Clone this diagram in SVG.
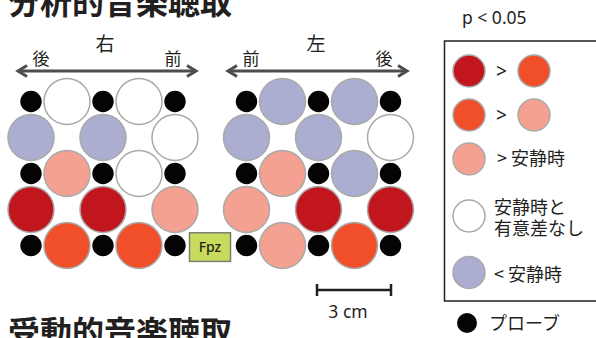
<svg xmlns="http://www.w3.org/2000/svg" width="596" height="338" viewBox="0 0 596 338">
<style>
.c{stroke:#a9a9a9;stroke-width:1.5}
.red{fill:#c1161d}
.org{fill:#f04f29}
.pnk{fill:#f5a192}
.wht{fill:#ffffff}
.lav{fill:#abaed1}
.prb{fill:#060304}
.jp{font-family:"Noto Sans CJK JP","Noto Sans",sans-serif;fill:#231f20}
.lat{font-family:"Noto Sans","Liberation Sans",sans-serif;fill:#231f20}
.arr{stroke:#4d4d4f;stroke-width:3;fill:none}
</style>
<rect width="596" height="338" fill="#ffffff"/>
<text class="jp" x="8" y="14" font-size="32" font-weight="bold">分析的音楽聴取</text>
<text class="jp" x="8" y="344" font-size="32" font-weight="bold">受動的音楽聴取</text>

<g id="connectors">
  <line class="arr" x1="19" y1="71" x2="195" y2="71"/>
  <polyline class="arr" points="27,65.5 18,71 27,76.5"/>
  <polyline class="arr" points="187,65.5 196,71 187,76.5"/>
  <line class="arr" x1="229" y1="71" x2="406" y2="71"/>
  <polyline class="arr" points="237,65.5 228,71 237,76.5"/>
  <polyline class="arr" points="398,65.5 407,71 398,76.5"/>
</g>

<g id="labels-right-head">
  <text class="jp" x="105" y="51" font-size="19" text-anchor="middle">右</text>
  <text class="jp" x="41" y="65" font-size="17" text-anchor="middle">後</text>
  <text class="jp" x="173" y="65" font-size="17" text-anchor="middle">前</text>
</g>
<g id="labels-left-head">
  <text class="jp" x="316" y="51" font-size="19" text-anchor="middle">左</text>
  <text class="jp" x="251" y="65" font-size="17" text-anchor="middle">前</text>
  <text class="jp" x="384" y="65" font-size="17" text-anchor="middle">後</text>
</g>

<g id="right-hemisphere">
  <circle class="c wht" cx="67" cy="101.5" r="23"/>
  <circle class="c wht" cx="139" cy="101.5" r="23"/>
  <circle class="c lav" cx="31" cy="137.5" r="23"/>
  <circle class="c lav" cx="103" cy="137.5" r="23"/>
  <circle class="c wht" cx="175" cy="137.5" r="23"/>
  <circle class="c pnk" cx="67" cy="173.5" r="23"/>
  <circle class="c wht" cx="139" cy="173.5" r="23"/>
  <circle class="c red" cx="31" cy="209.5" r="23"/>
  <circle class="c red" cx="103" cy="209.5" r="23"/>
  <circle class="c pnk" cx="175" cy="209.5" r="23"/>
  <circle class="c org" cx="67" cy="245.5" r="23"/>
  <circle class="c org" cx="139" cy="245.5" r="23"/>
  <g class="prb">
    <circle cx="31" cy="101.5" r="10.7"/>
    <circle cx="103" cy="101.5" r="10.7"/>
    <circle cx="175" cy="101.5" r="10.7"/>
    <circle cx="31" cy="173.5" r="10.7"/>
    <circle cx="103" cy="173.5" r="10.7"/>
    <circle cx="175" cy="173.5" r="10.7"/>
    <circle cx="31" cy="245.5" r="10.7"/>
    <circle cx="103" cy="245.5" r="10.7"/>
    <circle cx="175" cy="245.5" r="10.7"/>
  </g>
</g>

<g id="left-hemisphere">
  <circle class="c lav" cx="282.5" cy="101.5" r="23"/>
  <circle class="c lav" cx="354.5" cy="101.5" r="23"/>
  <circle class="c lav" cx="246.5" cy="137.5" r="23"/>
  <circle class="c lav" cx="318.5" cy="137.5" r="23"/>
  <circle class="c wht" cx="390.5" cy="137.5" r="23"/>
  <circle class="c pnk" cx="282.5" cy="173.5" r="23"/>
  <circle class="c lav" cx="354.5" cy="173.5" r="23"/>
  <circle class="c pnk" cx="246.5" cy="209.5" r="23"/>
  <circle class="c red" cx="318.5" cy="209.5" r="23"/>
  <circle class="c red" cx="390.5" cy="209.5" r="23"/>
  <circle class="c pnk" cx="282.5" cy="245.5" r="23"/>
  <circle class="c org" cx="354.5" cy="245.5" r="23"/>
  <g class="prb">
    <circle cx="246.5" cy="101.5" r="10.7"/>
    <circle cx="318.5" cy="101.5" r="10.7"/>
    <circle cx="390.5" cy="101.5" r="10.7"/>
    <circle cx="246.5" cy="173.5" r="10.7"/>
    <circle cx="318.5" cy="173.5" r="10.7"/>
    <circle cx="390.5" cy="173.5" r="10.7"/>
    <circle cx="246.5" cy="245.5" r="10.7"/>
    <circle cx="318.5" cy="245.5" r="10.7"/>
    <circle cx="390.5" cy="245.5" r="10.7"/>
  </g>
</g>

<g id="fpz">
  <rect x="189.5" y="232.8" width="41" height="28.6" fill="#c9db5c" stroke="#7d7d6e" stroke-width="1.5"/>
  <text class="lat" x="210" y="252" font-size="14" font-weight="500" text-anchor="middle">Fpz</text>
</g>

<g id="scale-bar">
  <line x1="317" y1="290" x2="391" y2="290" stroke="#231f20" stroke-width="2.5"/>
  <line x1="317" y1="284" x2="317" y2="296" stroke="#231f20" stroke-width="2.5"/>
  <line x1="391" y1="284" x2="391" y2="296" stroke="#231f20" stroke-width="2.5"/>
  <text class="lat" x="348" y="318" font-size="17.5" text-anchor="middle">3 cm</text>
</g>

<g id="legend">
  <text class="lat" x="462" y="24" font-size="17.5">p &lt; 0.05</text>
  <rect x="444.5" y="41" width="160" height="260" fill="none" stroke="#231f20" stroke-width="1.5"/>
  <circle class="c red" cx="469" cy="71" r="16"/>
  <text class="lat" x="496" y="78" font-size="19">&gt;</text>
  <circle class="c org" cx="534" cy="71" r="16"/>
  <circle class="c org" cx="469" cy="115" r="16"/>
  <text class="lat" x="496" y="122" font-size="19">&gt;</text>
  <circle class="c pnk" cx="534" cy="115" r="16"/>
  <circle class="c pnk" cx="469" cy="159" r="16"/>
  <text class="jp" x="497" y="165" font-size="18">&gt; 安静時</text>
  <circle class="c wht" cx="469" cy="216" r="16"/>
  <text class="jp" x="494" y="214" font-size="18">安静時と</text>
  <text class="jp" x="494" y="235" font-size="18">有意差なし</text>
  <circle class="c lav" cx="469" cy="272.5" r="16"/>
  <text class="jp" x="494" y="281" font-size="18">&lt; 安静時</text>
  <circle class="prb" cx="467" cy="323" r="10"/>
  <text class="jp" x="489" y="330" font-size="18">プローブ</text>
</g>
</svg>
